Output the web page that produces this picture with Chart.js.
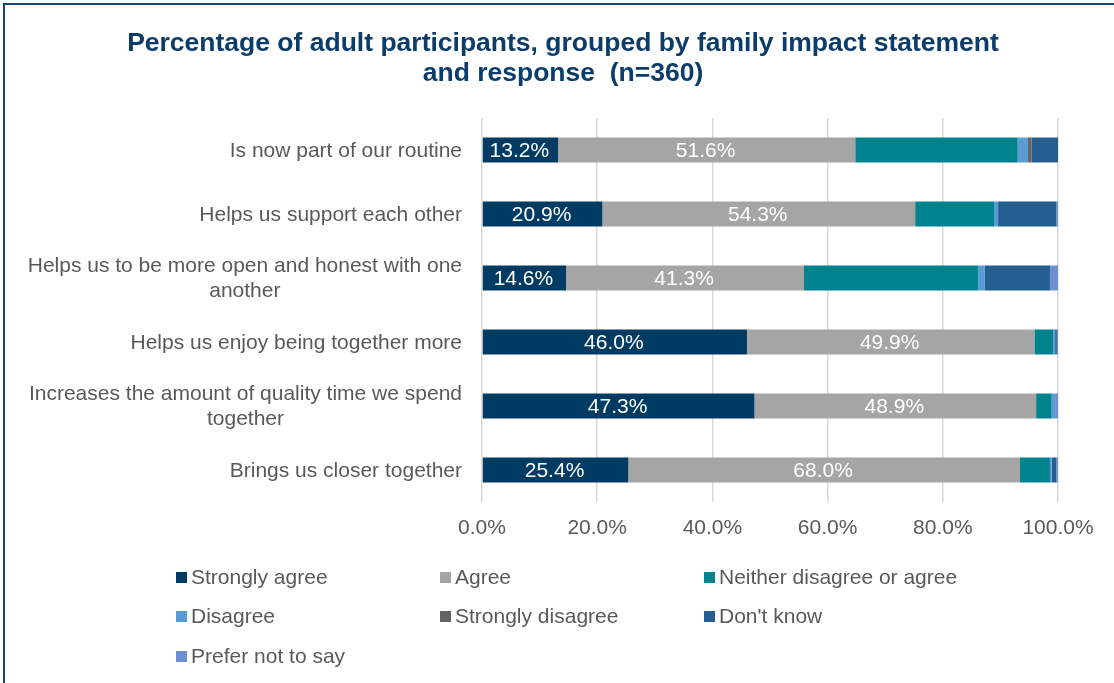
<!DOCTYPE html>
<html>
<head>
<meta charset="utf-8">
<script src="https://cdn.jsdelivr.net/npm/chart.js@4/dist/chart.umd.min.js"></script>
<style>
  html, body { margin: 0; padding: 0; background: #fff; }
  #wrap { position: relative; width: 1114px; height: 683px; overflow: hidden; }
  #frame { position: absolute; left: 3px; top: 3px; width: 1130px; height: 700px; border: 2px solid #174570; }
  #chart { position: absolute; left: 0; top: 0; }
  .key { position: absolute; font: 21px "Liberation Sans", Arial, sans-serif; color: #595959; white-space: nowrap; line-height: 22px; }
  .key i { display: inline-block; width: 11px; height: 11px; margin-right: 4px; vertical-align: 1px; }
</style>
</head>
<body>
<div id="wrap">
  <div id="frame"></div>
  <canvas id="chart" width="1114" height="683"></canvas>
  <div id="legend"></div>
</div>
<script>
const categories = [
    ["Is now part of our routine"],
    ["Helps us support each other"],
    ["Helps us to be more open and honest with one", "another"],
    ["Helps us enjoy being together more"],
    ["Increases the amount of quality time we spend", "together"],
    ["Brings us closer together"]
]

const seriesNames = ["Strongly agree", "Agree", "Neither disagree or agree", "Disagree", "Strongly disagree", "Don't know", "Prefer not to say"]
const seriesColors = ["#003b64", "#a5a5a5", "#00838f", "#5b9bd5", "#636363", "#255e91", "#6d8fd3"]

const stronglyAgree    = [13.2, 20.9, 14.6, 46.0, 47.3, 25.4]
const agree            = [51.6, 54.3, 41.3, 49.9, 48.9, 68.0]
const neither          = [28.2, 13.7, 30.2, 3.3, 2.7, 5.2]
const disagree         = [1.8, 0.7, 1.2, 0.3, 0.6, 0.3]
const stronglyDisagree = [0.6, 0.0, 0.0, 0.0, 0.0, 0.0]
const dontKnow         = [4.6, 10.1, 11.3, 0.3, 0.0, 0.8]
const preferNot        = [0.0, 0.3, 1.4, 0.2, 0.5, 0.3]

const xTicks = [0, 20, 40, 60, 80, 100]

const seriesValues = [stronglyAgree, agree, neither, disagree, stronglyDisagree, dontKnow, preferNot]
const FONT = '"Liberation Sans", Arial, sans-serif'

// category labels, right aligned, extra lines centred under the first
const categoryLabels = {
    id: "categoryLabels",
    afterDraw(chart) {
        const ctx = chart.ctx
        const yScale = chart.scales.y
        const right = chart.chartArea.left - 20
        ctx.save()
        ctx.font = "21px " + FONT
        ctx.fillStyle = "#595959"
        ctx.textAlign = "center"
        ctx.textBaseline = "middle"
        categories.forEach((lines, i) => {
            const y = yScale.getPixelForValue(i) + 1
            const w = Math.max(...lines.map(l => ctx.measureText(l).width))
            const cx = right - w / 2
            lines.forEach((l, j) => {
                ctx.fillText(l, cx, y + (j - (lines.length - 1) / 2) * 25)
            })
        })
        ctx.restore()
    }
}

// white value labels on the two agree segments
const valueLabels = {
    id: "valueLabels",
    afterDatasetsDraw(chart) {
        const ctx = chart.ctx
        ctx.save()
        ctx.font = "21px " + FONT
        ctx.fillStyle = "#ffffff"
        ctx.textAlign = "center"
        ctx.textBaseline = "middle"
        ;[0, 1].forEach(d => {
            chart.getDatasetMeta(d).data.forEach((bar, i) => {
                const v = seriesValues[d][i]
                ctx.fillText(v.toFixed(1) + "%", (bar.x + bar.base) / 2 - 1, bar.y + 1)
            })
        })
        ctx.restore()
    }
}

const chart = new Chart(document.getElementById("chart"), {
    type: "bar",
    data: {
        labels: categories.map(c => c.join(" ")),
        datasets: seriesNames.map((name, i) => ({
            label: name,
            data: seriesValues[i],
            backgroundColor: seriesColors[i],
            borderWidth: 0,
            barPercentage: 0.5,
            categoryPercentage: 0.78
        }))
    },
    options: {
        indexAxis: "y",
        responsive: false,
        animation: false,
        layout: { padding: { left: 68, right: 56, top: 10, bottom: 141 } },
        plugins: {
            legend: { display: false },
            tooltip: { enabled: false },
            title: {
                display: true,
                text: ["Percentage of adult participants, grouped by family impact statement", "and response  (n=360)"],
                color: "#0c3c6a",
                font: { family: FONT, size: 26.5, weight: "bold", lineHeight: 1.132 },
                padding: { top: 19, bottom: 29 }
            }
        },
        scales: {
            x: {
                stacked: true,
                min: 0,
                max: 100,
                afterBuildTicks(scale) { scale.ticks = xTicks.map(v => ({ value: v })) },
                afterFit(scale) { scale.height = 40 },
                grid: { color: "#d9d9d9", lineWidth: 1.5, drawTicks: false },
                border: { display: false },
                ticks: {
                    padding: 14,
                    color: "#595959",
                    font: { family: FONT, size: 21 },
                    callback: v => v.toFixed(1) + "%"
                }
            },
            y: {
                stacked: true,
                afterFit(scale) { scale.width = 414 },
                grid: { display: false },
                border: { display: false },
                ticks: { display: false }
            }
        }
    },
    plugins: [categoryLabels, valueLabels]
});

// legend laid out in three columns
const legend = document.getElementById("legend")
const colX = [176, 440, 704]
const rowY = [566, 605, 645]
seriesNames.forEach((name, i) => {
    const el = document.createElement("div")
    el.className = "key"
    el.style.left = colX[i % 3] + "px"
    el.style.top = rowY[Math.floor(i / 3)] + "px"
    el.innerHTML = `<i style="background:${seriesColors[i]}"></i>${name}`
    legend.appendChild(el)
})
</script>
</body>
</html>
